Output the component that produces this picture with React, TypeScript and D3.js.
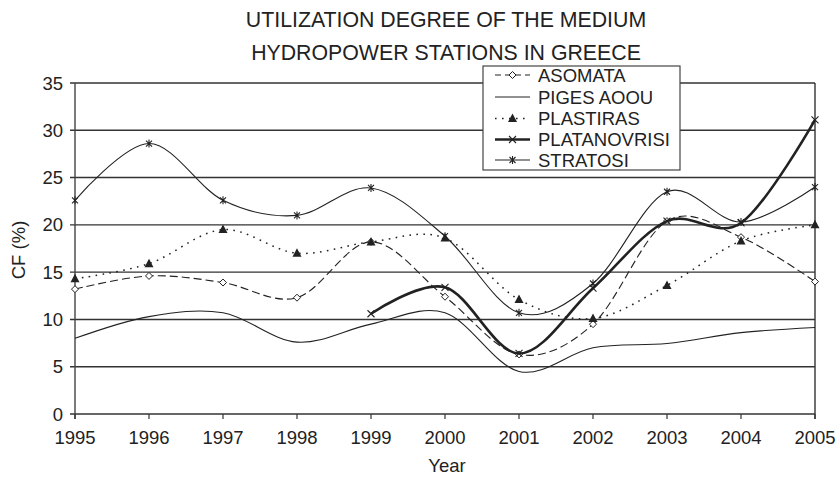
import React from "react";
import * as d3 from "d3";

const years = [1995, 1996, 1997, 1998, 1999, 2000, 2001, 2002, 2003, 2004, 2005];
const asomata = [13.2, 14.6, 13.9, 12.3, 18.2, 12.4, 6.3, 9.5, 20.4, 18.7, 14.0];
const pigesAoou = [8.0, 10.3, 10.7, 7.6, 9.5, 10.7, 4.5, 7.0, 7.45, 8.6, 9.15];
const plastiras = [14.3, 15.9, 19.5, 17.0, 18.2, 18.6, 12.1, 10.1, 13.6, 18.3, 20.0];
const platanovrisi: (number | null)[] = [null, null, null, null, 10.6, 13.4, 6.4, 13.3, 20.4, 20.2, 31.1];
const stratosi = [22.6, 28.6, 22.6, 21.0, 23.9, 18.8, 10.7, 13.8, 23.5, 20.3, 24.0];
const yTicks = [0, 5, 10, 15, 20, 25, 30, 35];

const W = 840, H = 481;
const L = 75, R = 815, T = 83, B = 414;
const FONT = "'Liberation Sans', Arial, sans-serif";
const INK = "#222";

type Marker = "diamond" | "none" | "triangle" | "x" | "star";
interface Series { name: string; values: (number | null)[]; dash?: string; width: number; marker: Marker; }

const series: Series[] = [
  { name: "ASOMATA", values: asomata, dash: "8,4", width: 1.1, marker: "diamond" },
  { name: "PIGES AOOU", values: pigesAoou, width: 1.1, marker: "none" },
  { name: "PLASTIRAS", values: plastiras, dash: "1.6,5.4", width: 1.5, marker: "triangle" },
  { name: "PLATANOVRISI", values: platanovrisi, width: 2.6, marker: "x" },
  { name: "STRATOSI", values: stratosi, width: 1.1, marker: "star" },
];

function MarkerShape({ kind, x, y }: { kind: Marker; x: number; y: number }) {
  if (kind === "diamond") {
    return <path d={`M${x},${y - 3.5}L${x + 3.5},${y}L${x},${y + 3.5}L${x - 3.5},${y}Z`} fill="white" stroke={INK} strokeWidth={1} />;
  }
  if (kind === "triangle") {
    return <path d={`M${x},${y - 5}L${x + 4.5},${y + 3.5}L${x - 4.5},${y + 3.5}Z`} fill={INK} />;
  }
  if (kind === "x") {
    const s = 3.5;
    return <path d={`M${x - s},${y - s}L${x + s},${y + s}M${x - s},${y + s}L${x + s},${y - s}`} stroke={INK} strokeWidth={1.1} fill="none" />;
  }
  if (kind === "star") {
    const s = 3;
    return <path d={`M${x - s},${y - s}L${x + s},${y + s}M${x - s},${y + s}L${x + s},${y - s}M${x},${y - 4}L${x},${y + 4}`} stroke={INK} strokeWidth={1.1} fill="none" />;
  }
  return null;
}

export default function App() {
  const x = d3.scaleLinear().domain([1995, 2005]).range([L, R]);
  const y = d3.scaleLinear().domain([0, 35]).range([B, T]);
  const line = d3.line<[number, number | null]>()
    .defined((d) => d[1] !== null)
    .x((d) => x(d[0]))
    .y((d) => y(d[1] as number))
    .curve(d3.curveCatmullRom.alpha(0));

  const legX = 483, legY = 66, legW = 197, legH = 104;
  const rowY = [75, 97, 118.5, 139.5, 160];

  return (
    <svg width={W} height={H} style={{ position: "absolute", left: 0, top: 0, background: "white" }} fontFamily={FONT}>
      <rect x={0} y={0} width={W} height={H} fill="white" />
      <text x={446} y={27} textAnchor="middle" fontSize={21.3} fill={INK}>UTILIZATION DEGREE OF THE MEDIUM</text>
      <text x={446} y={60} textAnchor="middle" fontSize={21.3} fill={INK}>HYDROPOWER STATIONS IN GREECE</text>

      {yTicks.map((t) => (
        <g key={t}>
          <line x1={L - 5} x2={R} y1={y(t)} y2={y(t)} stroke="#333" strokeWidth={1.4} />
          <text x={63} y={y(t) + 6.5} textAnchor="end" fontSize={18.5} fill={INK}>{t}</text>
        </g>
      ))}
      <line x1={L} x2={L} y1={T} y2={B + 5} stroke="#444" strokeWidth={1.4} />
      <line x1={R} x2={R} y1={T} y2={B + 5} stroke="#333" strokeWidth={1.4} />
      {years.map((yr) => (
        <g key={yr}>
          <line x1={x(yr)} x2={x(yr)} y1={B} y2={B + 5} stroke="#333" strokeWidth={1.2} />
          <text x={x(yr)} y={444} textAnchor="middle" fontSize={18.5} fill={INK}>{yr}</text>
        </g>
      ))}
      <text x={447} y={472} textAnchor="middle" fontSize={18.5} fill={INK}>Year</text>
      <text transform={`translate(25,250) rotate(-90)`} textAnchor="middle" fontSize={18.5} fill={INK}>CF (%)</text>

      {series.map((s) => {
        const pts: [number, number | null][] = years.map((yr, i) => [yr, s.values[i]]);
        return (
          <g key={s.name}>
            <path d={line(pts) || ""} fill="none" stroke={INK} strokeWidth={s.width} strokeDasharray={s.dash} />
            {pts.filter((p) => p[1] !== null).map((p, i) => (
              <MarkerShape key={i} kind={s.marker} x={x(p[0])} y={y(p[1] as number)} />
            ))}
          </g>
        );
      })}

      <rect x={legX} y={legY} width={legW} height={legH} fill="white" stroke="#444" strokeWidth={1.2} />
      {series.map((s, i) => (
        <g key={s.name}>
          <line x1={495} x2={530} y1={rowY[i]} y2={rowY[i]} stroke={INK} strokeWidth={s.width} strokeDasharray={s.dash === "8,4" ? "6,4" : s.dash} />
          <MarkerShape kind={s.marker} x={512.5} y={rowY[i]} />
          <text x={538} y={rowY[i] + 6.5} fontSize={18.5} fill={INK}>{s.name}</text>
        </g>
      ))}
    </svg>
  );
}
